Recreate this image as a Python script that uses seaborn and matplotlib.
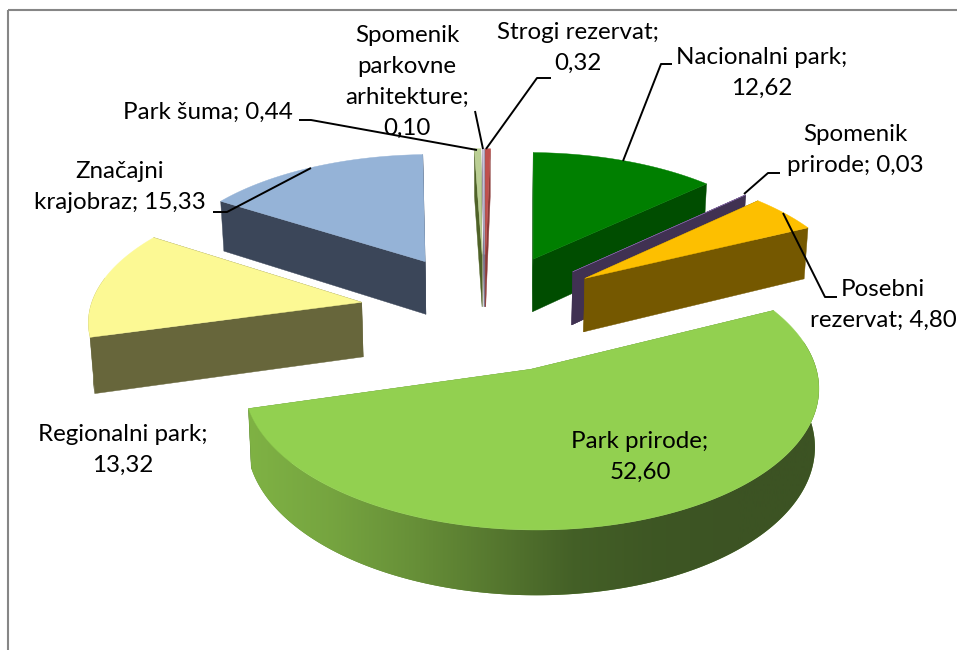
import numpy as np
import matplotlib
matplotlib.use("Agg")
import matplotlib.pyplot as plt
from matplotlib.colors import LinearSegmentedColormap
from matplotlib.patches import Polygon, Rectangle
import seaborn as sns

sns.set_theme(style="white")
plt.rcParams['font.family'] = ['Lato', 'DejaVu Sans']

# order is the order of the slices, clockwise from 12 o'clock
names = ["Strogi rezervat", "Nacionalni park", "Spomenik prirode", "Posebni rezervat", "Park prirode",
         "Regionalni park", "Značajni krajobraz", "Park šuma", "Spomenik parkovne arhitekture"]
values = [0.32, 12.62, 0.03, 4.80, 52.60, 13.32, 15.33, 0.44, 0.10]
top_colors = ["#C0504D", "#007F00", "#8064A2", "#FDBF00", "#92D050", "#FCF994", "#95B3D7", "#BBCF94", "#CCC1DA"]
side_colors = ["#8A3A38", "#004D00", "#403152", "#755800", "#5F8A35", "#67663B", "#3B4659", "#4F6228", "#5F5570"]
draw_order = [7, 8, 0, 6, 1, 2, 3, 5, 4]

label_text = ["Strogi rezervat;\n0,32", "Nacionalni park;\n12,62", "Spomenik\nprirode; 0,03", "Posebni\nrezervat; 4,80",
              "Park prirode;\n52,60", "Regionalni park;\n13,32", "Značajni\nkrajobraz; 15,33", "Park šuma; 0,44",
              "Spomenik\nparkovne\narhitekture;\n0,10"]
label_x = [578, 762, 855, 883, 640, 123, 120, 208, 407]
label_y = [48, 73, 150, 305, 457, 450, 187, 112, 82]
leaders = [[(551, 78), (537, 78), (486, 149)],
           [(672, 64), (661, 64), (623, 161)],
           [(780, 173), (768, 173), (744, 194)],
           [(837, 297), (825, 297), (783, 213)],
           None,
           None,
           [(213, 212), (227, 212), (311, 168)],
           [(299, 120), (311, 120), (477, 150)],
           [(475, 111), (483, 149)]]

# camera / 3d look of the pie
CX, CY = 484.5, 311
FX, FY = 272, 129
PERSP = 0.11
EXPLODE = 0.46
THICK = 55
NARROW = 0.988


def project(X, Y):
    s = 1 / (1 + PERSP * Y)
    return CX + FX * X * s, CY - FY * Y * s, s


def bottom(X, Y):
    x, y, s = project(X, Y)
    return CX + (x - CX) * NARROW, y + THICK * s


fracs = np.array(values) / sum(values)
edges = np.concatenate([[0], np.cumsum(fracs)]) * 2 * np.pi

fig = plt.figure(figsize=(9.57, 6.5), dpi=100)
ax = fig.add_axes([0, 0, 1, 1])
ax.set_xlim(0, 957)
ax.set_ylim(650, 0)
ax.axis("off")
ax.add_patch(Rectangle((8, 10), 1200, 900, fill=False, ec="#868686", lw=1.5, zorder=0))

gradient = LinearSegmentedColormap.from_list("rim", sns.blend_palette(["#7FB244", "#729F3E", "#5A7D31", "#405B25", "#3C5323", "#3C5323"], 8))

z = 1
for i in draw_order:
    a0, a1 = edges[i], edges[i + 1]
    mid = (a0 + a1) / 2
    ox, oy = EXPLODE * np.sin(mid), EXPLODE * np.cos(mid)
    th = np.linspace(a0, a1, 200)
    X = ox + np.sin(th)
    Y = oy + np.cos(th)
    tx, ty, _ = project(X, Y)
    ax_, ay_, _ = project(ox, oy)
    bx, by = bottom(X, Y)
    bax, bay = bottom(ox, oy)

    # the two cut faces
    for k in (0, -1):
        pts = [(ax_, ay_), (tx[k], ty[k]), (bx[k], by[k]), (bax, bay)]
        ax.add_patch(Polygon(pts, fc=side_colors[i], ec=side_colors[i], lw=0.3, zorder=z))
        z += 1

    # outer wall, the part turned to the viewer (camera looks down so a bit past the equator)
    front = np.cos(th) < 0.2
    if front.any():
        pts = list(zip(tx[front], ty[front])) + list(zip(bx[front][::-1], by[front][::-1]))
        wall = Polygon(pts, fc=side_colors[i], ec="none", zorder=z)
        ax.add_patch(wall)
        z += 1
        if names[i] == "Park prirode":
            img = ax.imshow(np.linspace(0, 1, 256).reshape(1, -1), cmap=gradient, aspect="auto",
                            extent=(tx[front].min(), tx[front].max(), 650, 0), zorder=z)
            img.set_clip_path(wall)
            ax.set_xlim(0, 957)
            ax.set_ylim(650, 0)
            z += 1

    pts = [(ax_, ay_)] + list(zip(tx, ty))
    ax.add_patch(Polygon(pts, fc=top_colors[i], ec=top_colors[i], lw=0.3, zorder=z))
    z += 1

for line in leaders:
    if line is not None:
        ax.plot(*zip(*line), color="black", lw=1.4, zorder=z, solid_capstyle="butt")

for t, x, y in zip(label_text, label_x, label_y):
    ax.text(x, y, t, ha="center", va="center", fontsize=17.4, color="black", linespacing=1.6, zorder=z + 1)

fig.savefig("out.png", dpi=100)
